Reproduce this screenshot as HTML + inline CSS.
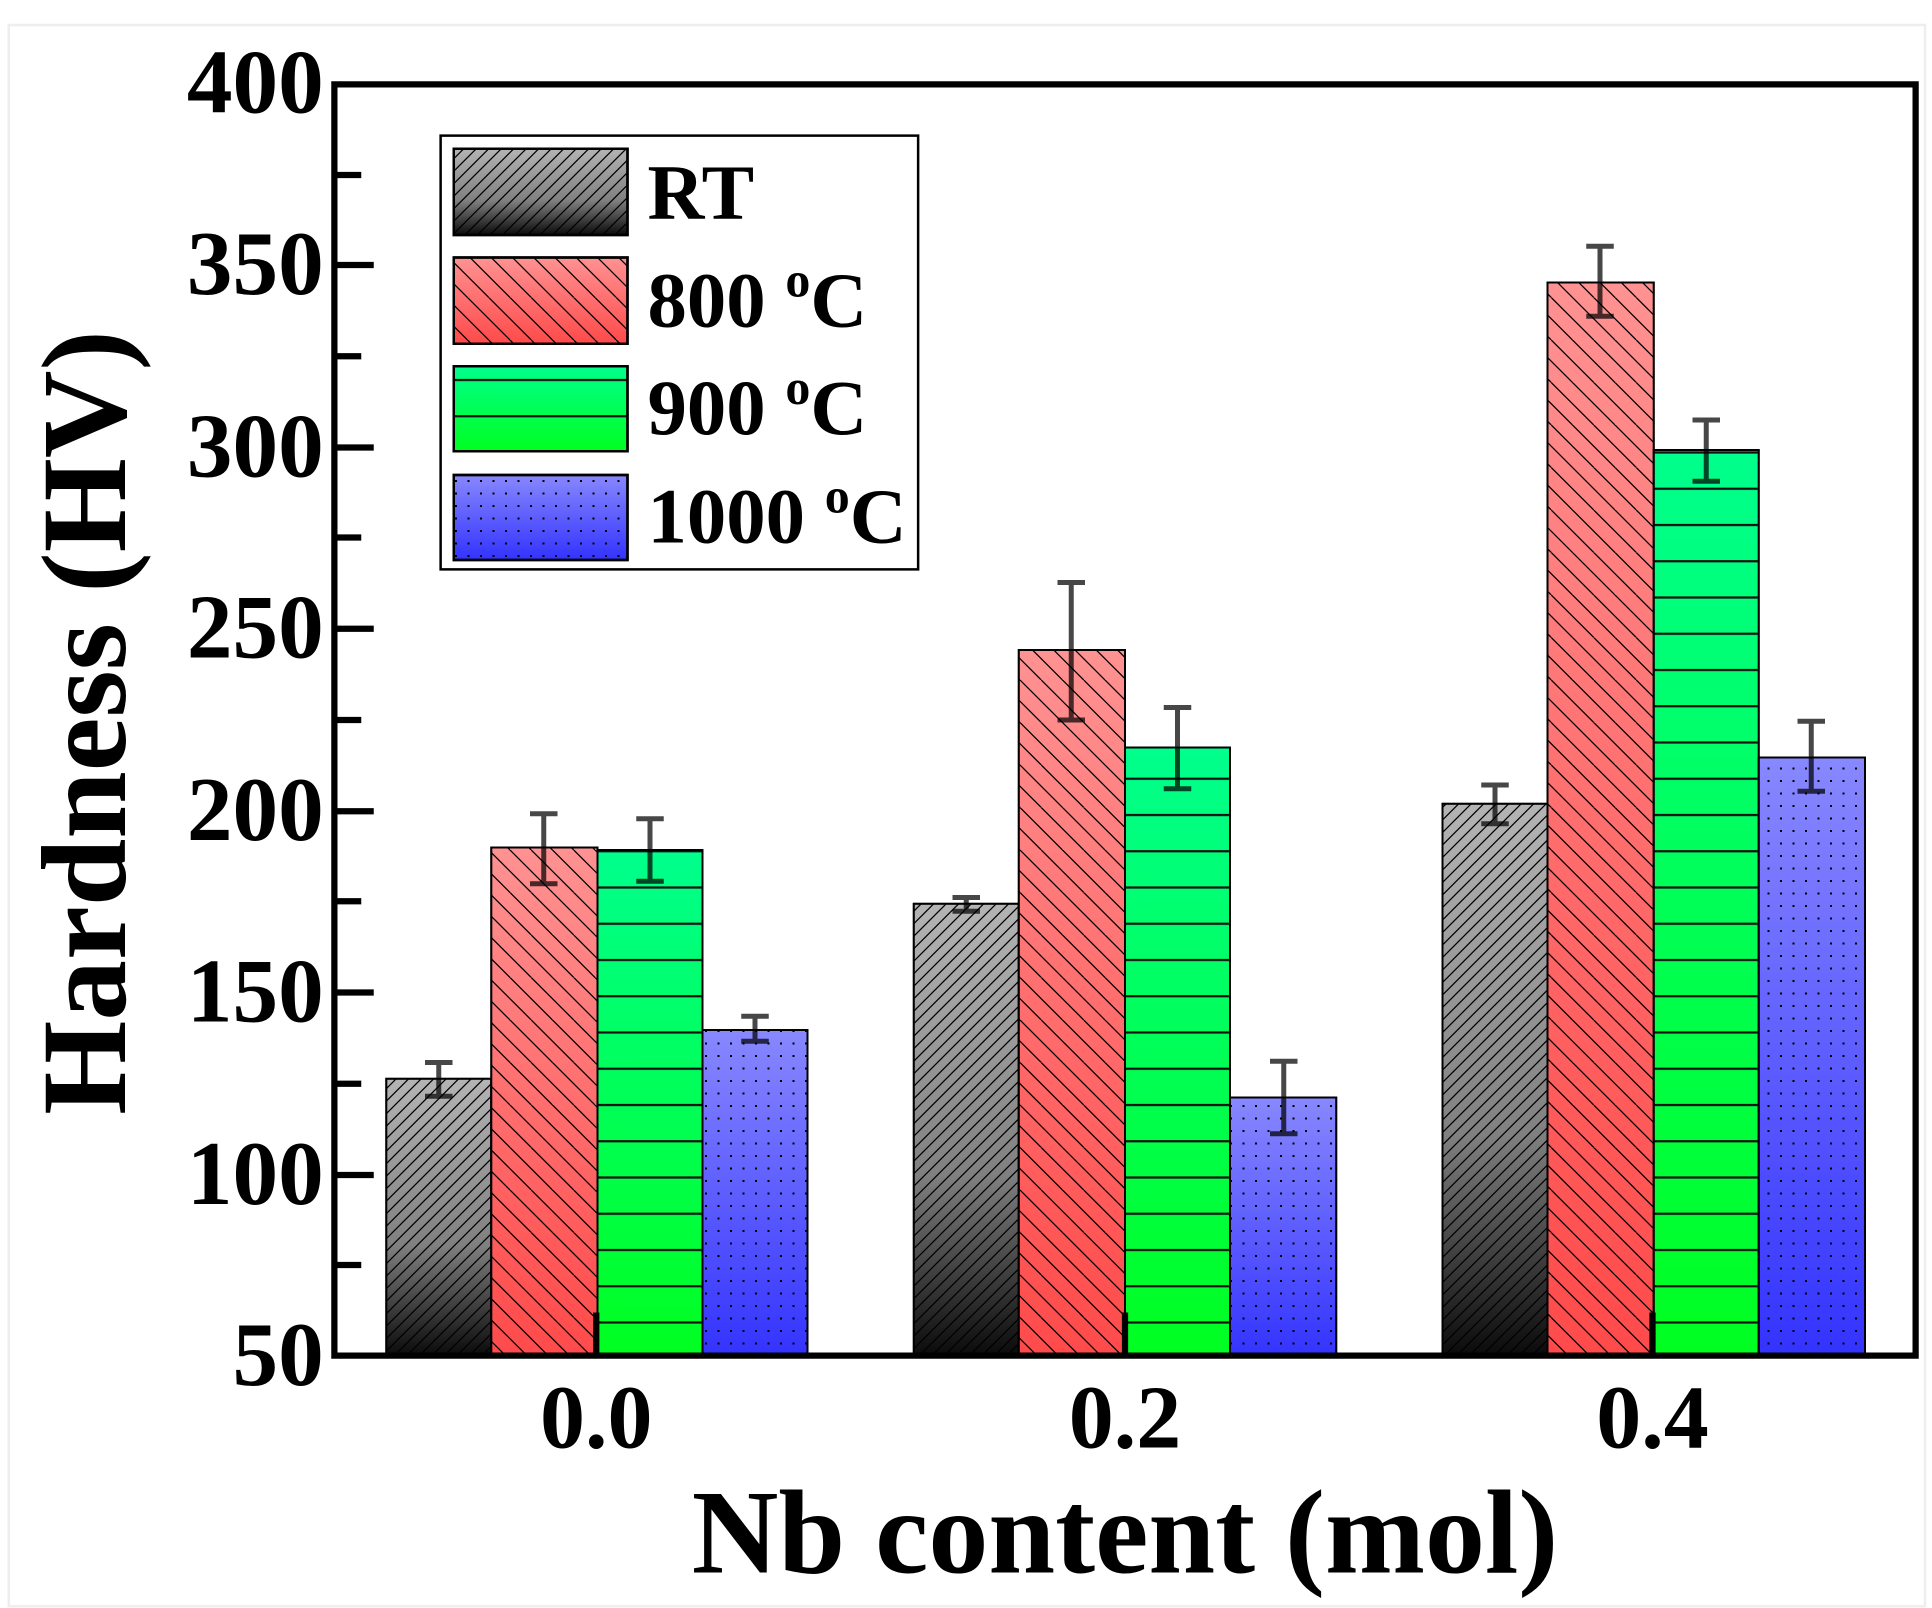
<!DOCTYPE html>
<html><head><meta charset="utf-8"><style>html,body{margin:0;padding:0;background:#fff}svg{display:block}</style></head>
<body>
<svg width="1932" height="1608" viewBox="0 0 1545.6 1286.4" xmlns="http://www.w3.org/2000/svg" font-family="'Liberation Serif',serif" font-weight="bold">
<defs>
<linearGradient id="gK" x1="0" y1="0" x2="0" y2="1"><stop offset="0" stop-color="#b4b4b4"/><stop offset="0.6" stop-color="#808080"/><stop offset="1" stop-color="#0a0a0a"/></linearGradient>
<linearGradient id="gR" x1="0" y1="0" x2="0" y2="1"><stop offset="0" stop-color="#ff9292"/><stop offset="1" stop-color="#ff4a4a"/></linearGradient>
<linearGradient id="gG" x1="0" y1="0" x2="0" y2="1"><stop offset="0" stop-color="#00ff8c"/><stop offset="1" stop-color="#00ff20"/></linearGradient>
<linearGradient id="gB" x1="0" y1="0" x2="0" y2="1"><stop offset="0" stop-color="#8888ff"/><stop offset="1" stop-color="#3333ff"/></linearGradient>
<pattern id="pK" width="10" height="10" patternUnits="userSpaceOnUse"><path d="M-2,12 L12,-2 M-2,2 L2,-2 M8,12 L12,8" stroke="#000" stroke-width="1"/></pattern>
<pattern id="pR" width="34" height="34" patternUnits="userSpaceOnUse"><path d="M0,0 L34,34 M-17,17 L0,34 M17,-17 L51,17 M17,0 L51,34 M-17,0 L17,34" stroke="#000" stroke-width="1"/></pattern>
<pattern id="pG" width="20" height="29" patternUnits="userSpaceOnUse"><path d="M0,14 L20,14" stroke="#111" stroke-width="1.8"/></pattern>
<pattern id="pB" width="10" height="10" patternUnits="userSpaceOnUse"><rect x="4" y="4" width="1.6" height="1.6" fill="#000"/></pattern>
</defs>
<rect x="7" y="20" width="1533" height="1265" fill="none" stroke="#eee" stroke-width="2"/>
<g stroke="#000" stroke-width="1.5">
<rect x="309" y="863" width="84" height="222" fill="url(#gK)"/><rect x="309" y="863" width="84" height="222" fill="url(#pK)"/>
<rect x="393" y="678" width="85" height="407" fill="url(#gR)"/><rect x="393" y="678" width="85" height="407" fill="url(#pR)"/>
<rect x="478" y="680" width="84" height="405" fill="url(#gG)"/><rect x="478" y="680" width="84" height="405" fill="url(#pG)"/>
<rect x="562" y="824" width="84" height="261" fill="url(#gB)"/><rect x="562" y="824" width="84" height="261" fill="url(#pB)"/>
<rect x="731" y="723" width="84" height="362" fill="url(#gK)"/><rect x="731" y="723" width="84" height="362" fill="url(#pK)"/>
<rect x="815" y="520" width="85" height="565" fill="url(#gR)"/><rect x="815" y="520" width="85" height="565" fill="url(#pR)"/>
<rect x="900" y="598" width="84" height="487" fill="url(#gG)"/><rect x="900" y="598" width="84" height="487" fill="url(#pG)"/>
<rect x="984" y="878" width="85" height="207" fill="url(#gB)"/><rect x="984" y="878" width="85" height="207" fill="url(#pB)"/>
<rect x="1154" y="643" width="84" height="442" fill="url(#gK)"/><rect x="1154" y="643" width="84" height="442" fill="url(#pK)"/>
<rect x="1238" y="226" width="85" height="859" fill="url(#gR)"/><rect x="1238" y="226" width="85" height="859" fill="url(#pR)"/>
<rect x="1323" y="360" width="84" height="725" fill="url(#gG)"/><rect x="1323" y="360" width="84" height="725" fill="url(#pG)"/>
<rect x="1407" y="606" width="85" height="479" fill="url(#gB)"/><rect x="1407" y="606" width="85" height="479" fill="url(#pB)"/>
</g>
<g stroke="#000" stroke-opacity="0.72" stroke-width="4" fill="none">
<path d="M351,850V877M340,850H362M340,877H362"/>
<path d="M435,651V707M424,651H446M424,707H446"/>
<path d="M520,655V705M509,655H531M509,705H531"/>
<path d="M604,813V833M593,813H615M593,833H615"/>
<path d="M773,718V729M762,718H784M762,729H784"/>
<path d="M857,466V576M846,466H868M846,576H868"/>
<path d="M942,566V631M931,566H953M931,631H953"/>
<path d="M1027,849V907M1016,849H1038M1016,907H1038"/>
<path d="M1196,628V659M1185,628H1207M1185,659H1207"/>
<path d="M1280,197V253M1269,197H1291M1269,253H1291"/>
<path d="M1365,336V385M1354,336H1376M1354,385H1376"/>
<path d="M1449,577V633M1438,577H1460M1438,633H1460"/>
</g>
<rect x="267.5" y="67.5" width="1265" height="1017" fill="none" stroke="#000" stroke-width="5"/>
<g stroke="#000" stroke-width="5">
<path d="M267,212H299M267,358H299M267,503H299M267,649H299M267,794H299M267,940H299"/>
<path d="M267,140H289M267,285H289M267,430H289M267,576H289M267,721H289M267,867H289M267,1012H289"/>
<path d="M477,1084V1050M900,1084V1050M1322,1084V1050"/>
</g>
<g font-size="73" text-anchor="end" fill="#000">
<text x="259" y="90">400</text><text x="259" y="235">350</text><text x="259" y="381">300</text>
<text x="259" y="526">250</text><text x="259" y="672">200</text><text x="259" y="817">150</text>
<text x="259" y="963">100</text><text x="259" y="1108">50</text>
</g>
<g font-size="72" text-anchor="middle" fill="#000">
<text x="477" y="1158">0.0</text><text x="900" y="1158">0.2</text><text x="1322" y="1158">0.4</text>
</g>
<text x="900" y="1258" font-size="96" text-anchor="middle">Nb content (mol)</text>
<text transform="translate(100,578) rotate(-90)" font-size="97" text-anchor="middle">Hardness (HV)</text>
<rect x="352.5" y="108.5" width="382" height="347" fill="#fff" stroke="#000" stroke-width="2"/>
<g stroke="#000" stroke-width="2">
<rect x="363" y="119" width="139" height="69" fill="url(#gK)"/><rect x="363" y="119" width="139" height="69" fill="url(#pK)"/>
<rect x="363" y="206" width="139" height="69" fill="url(#gR)"/><rect x="363" y="206" width="139" height="69" fill="url(#pR)"/>
<rect x="363" y="293" width="139" height="68" fill="url(#gG)"/><rect x="363" y="293" width="139" height="68" fill="url(#pG)"/>
<rect x="363" y="380" width="139" height="68" fill="url(#gB)"/><rect x="363" y="380" width="139" height="68" fill="url(#pB)"/>
</g>
<g font-size="63" fill="#000">
<text x="518" y="175">RT</text>
<text x="518" y="261">800 <tspan font-size="40" dy="-24">o</tspan><tspan dy="24">C</tspan></text>
<text x="518" y="347">900 <tspan font-size="40" dy="-24">o</tspan><tspan dy="24">C</tspan></text>
<text x="518" y="434">1000 <tspan font-size="40" dy="-24">o</tspan><tspan dy="24">C</tspan></text>
</g>
</svg>
</body></html>
